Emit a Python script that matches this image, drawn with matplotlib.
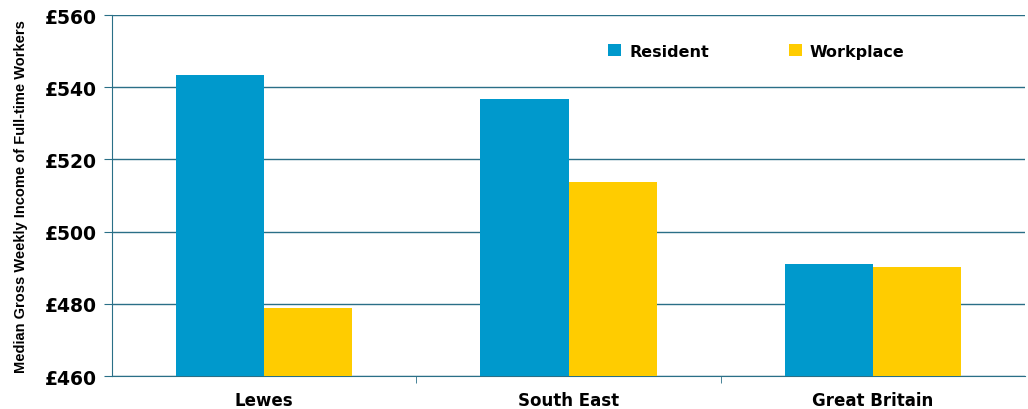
import matplotlib

matplotlib.use("Agg")
import matplotlib.pyplot as plt
import numpy as np

plt.rcParams.update({"font.family": "DejaVu Sans", "font.weight": "bold"})

categories = ["Lewes", "South East", "Great Britain"]
resident = [543.4, 536.7, 491.0]
workplace = [478.8, 513.7, 490.2]
yticks = [460, 480, 500, 520, 540, 560]

BLUE = "#0099CC"
YELLOW = "#FFCC00"
TEAL = "#2A6F87"

fig = plt.figure(figsize=(10.28, 4.10), dpi=100)
ax = fig.add_axes([112 / 1028, 1 - 377 / 410, (1025 - 112) / 1028, (377 - 16) / 410])

x = np.arange(len(categories))
w = 0.29
ax.bar(x - w / 2, np.array(resident) - 460, w, bottom=460, color=BLUE, label="Resident", zorder=3)
ax.bar(x + w / 2, np.array(workplace) - 460, w, bottom=460, color=YELLOW, label="Workplace", zorder=3)

ax.set_xlim(-0.5, 2.5)
ax.set_ylim(460, 560)
ax.set_yticks(yticks, [f"£{v}" for v in yticks], fontsize=13.5)
ax.set_xticks(x, categories, fontsize=12)
ax.set_xticks([0.5, 1.5], minor=True)
ax.tick_params(axis="x", which="major", length=0, pad=11)
ax.tick_params(axis="x", which="minor", length=5, color=TEAL, direction="out")
ax.tick_params(axis="y", length=6, color=TEAL, pad=5)
ax.grid(axis="y", color=TEAL, lw=1, zorder=0)
for s in ["top", "right"]:
    ax.spines[s].set_visible(False)
for s in ["left", "bottom"]:
    ax.spines[s].set_color(TEAL)

ax.set_ylabel("Median Gross Weekly Income of Full-time Workers", fontsize=10.5,
              fontweight="bold", family="Liberation Sans", labelpad=12)
ax.legend(loc="upper left", bbox_to_anchor=(0.528, 0.96), ncol=2, frameon=False,
          fontsize=11.5, handlelength=0.8, handleheight=0.8, columnspacing=5.0,
          handletextpad=0.5)

fig.savefig("out.png")
